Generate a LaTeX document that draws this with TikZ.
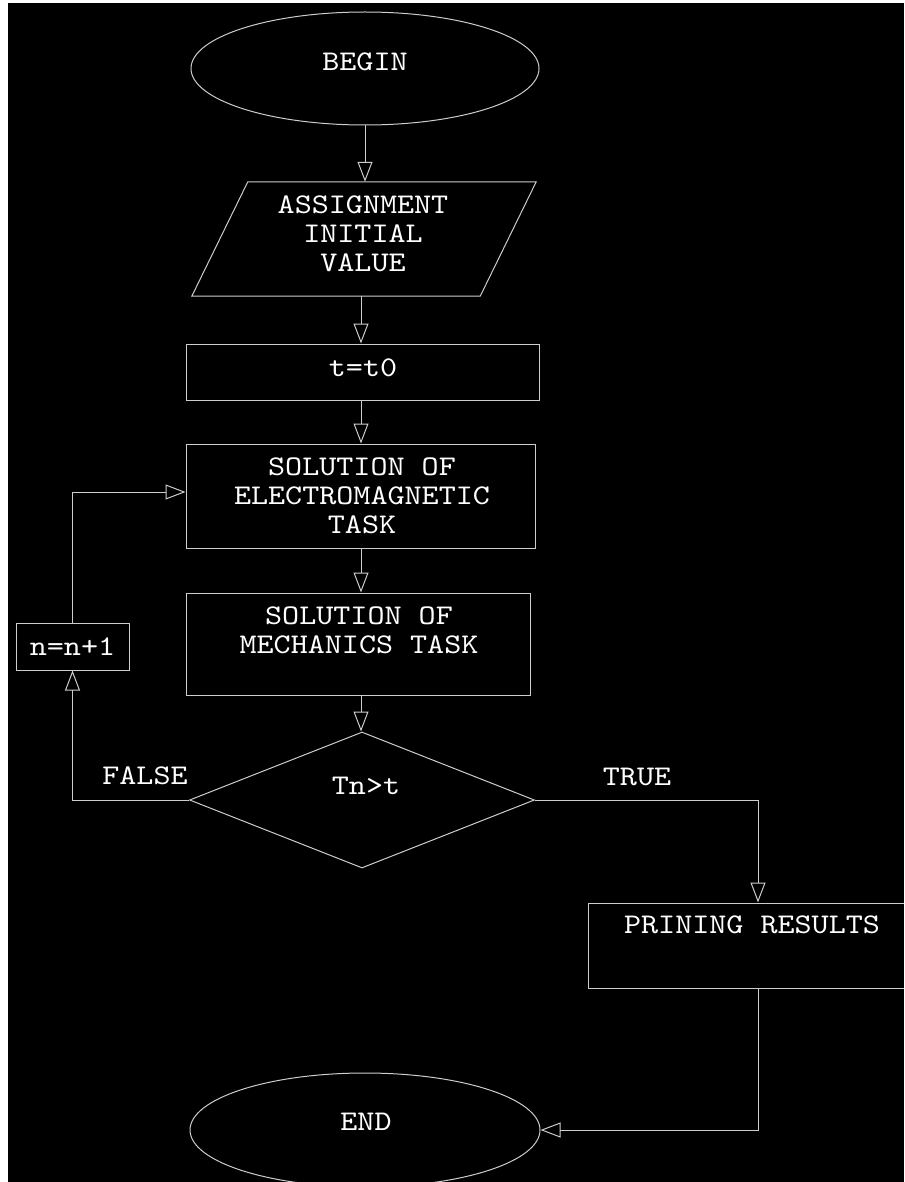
\documentclass[tikz,border=0pt]{standalone}
\usepackage{fontspec}
\newfontfamily\flowfont{lmmono10-regular.otf}[FakeStretch=1.14]
\usetikzlibrary{shapes.geometric,arrows.meta,calc}
\definecolor{ln}{RGB}{205,205,205}
\begin{document}
\begin{tikzpicture}[x=1pt,y=-1pt,
  line/.style={draw=ln, line width=1pt},
  arr/.style={line, -{Triangle[open,length=20pt,width=15pt]}},
  txt/.style={text=white, font=\flowfont\fontsize{28.5}{29}\selectfont, align=center, inner sep=0pt},
  shp/.style={line, inner sep=0pt},
]
\useasboundingbox (0,0) rectangle (904,1182);
\clip (0,0) rectangle (904,1182);
\fill[white] (0,0) rectangle (904,1182);
\fill[black] (8,3) rectangle (904,1182);

\coordinate (axis) at (361,0);

% shapes
\node[shp, ellipse, minimum width=348pt, minimum height=113pt] (begin) at (365,68.5) {};
\node[inner sep=0pt, minimum width=344pt, minimum height=114pt] (assign) at (364,239) {};
\draw[line] (assign.south west) -- ([xshift=56pt]assign.north west) -- (assign.north east) -- ([xshift=-56pt]assign.south east) -- cycle;
\node[shp, rectangle, minimum width=353pt, minimum height=56pt] (t0) at (362.5,372) {};
\node[shp, rectangle, minimum width=349pt, minimum height=104pt] (em) at (360.5,496) {};
\node[shp, rectangle, minimum width=344pt, minimum height=102pt] (mech) at (358,644) {};
\node[shp, rectangle, minimum width=113pt, minimum height=47pt] (nbox) at (72.5,646.5) {};
\node[shp, diamond, aspect=2.5, minimum width=345pt, minimum height=136pt] (dia) at (362,800) {};
\node[shp, rectangle, minimum width=340pt, minimum height=85pt] (prt) at (758,945.5) {};
\node[shp, ellipse, minimum width=350pt, minimum height=114pt] (end) at (365,1130) {};

% texts
\node[txt] (beginT) at (365,62) {BEGIN};
\node[txt] (assignT) at (363,233.5) {ASSIGNMENT\\INITIAL\\VALUE};
\node[txt] (t0T) at (363,368) {t=t0};
\node[txt] (emT) at (362,495.5) {SOLUTION OF\\ELECTROMAGNETIC\\TASK};
\node[txt] (mechT) at (359,630.5) {SOLUTION OF\\MECHANICS TASK};
\node[txt] (nboxT) at (72.5,647) {n=n+1};
\node[txt] (diaT) at (366,786) {Tn>t};
\node[txt] (prtT) at (752,925) {PRINING RESULTS};
\node[txt] (endT) at (366,1122) {END};
\node[txt] (falseT) at (145,776) {FALSE};
\node[txt] (trueT) at (637,777) {TRUE};

% connectors
\draw[arr] (begin.south) -- (begin.south |- assign.north);
\draw[arr] (assign.south -| axis) -- (t0.north -| axis);
\draw[arr] (t0.south -| axis) -- (em.north -| axis);
\draw[arr] (em.south -| axis) -- (mech.north -| axis);
\draw[arr] (mech.south -| axis) -- (dia.north -| axis);
\draw[arr] (dia.east) -| (prt.north);
\draw[arr] (prt.south) |- (end.east);
\draw[arr] (dia.west) -| (nbox.south);
\draw[arr] (nbox.north) |- ([yshift=4pt]em.west);
\end{tikzpicture}
\end{document}
